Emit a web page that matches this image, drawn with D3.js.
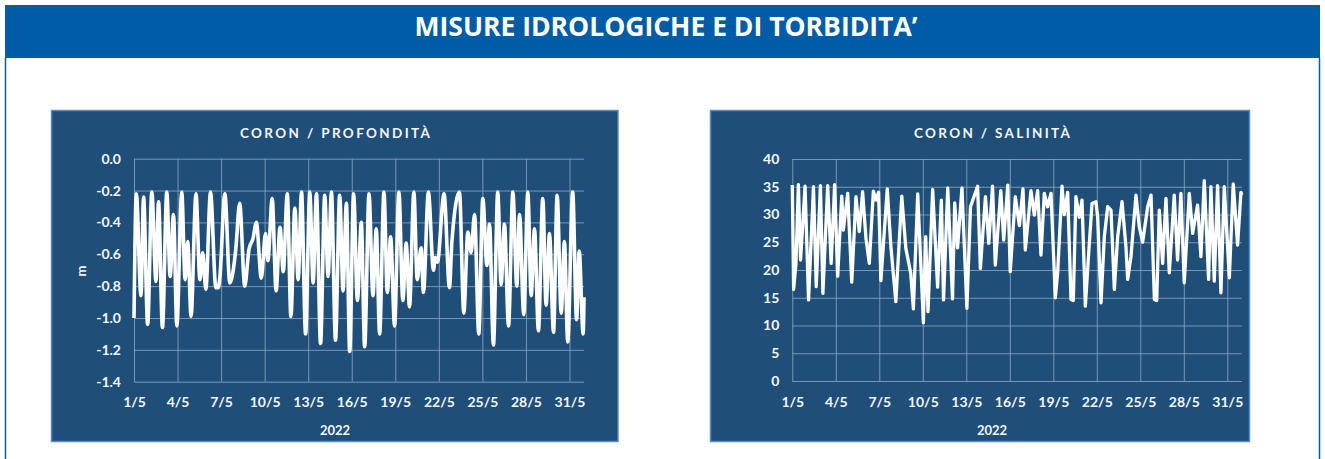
<!DOCTYPE html>
<html>
<head>
<meta charset="utf-8">
<script src="https://cdn.jsdelivr.net/npm/d3@7"></script>
<style>
  html, body { margin: 0; padding: 0; background: #ffffff; }
  svg { display: block; }
</style>
</head>
<body>
<svg id="chart" width="1325" height="459"></svg>
<script>
// ---------------- DATA ----------------
const pageTitle = "MISURE IDROLOGICHE E DI TORBIDITA’";
const depthTitle = "CORON / PROFONDITÀ";
const salTitle = "CORON / SALINITÀ";
const yearLabel = "2022";
const depthUnit = "m";

// x ticks: days of May 2022
const xTickDaysOfMonth = [1, 4, 7, 10, 13, 16, 19, 22, 25, 28, 31];
const depthTicks = [0.0, -0.2, -0.4, -0.6, -0.8, -1.0, -1.2, -1.4];
const salTicks = [0, 5, 10, 15, 20, 25, 30, 35, 40];

// Depth (m): time in days since 1 May 2022 00:00, value
const depthDays = [
  0.00, 0.16, 0.48, 0.66, 0.94, 1.23, 1.51, 1.69, 1.96, 2.26,
  2.49, 2.72, 2.95, 3.29, 3.52, 3.70, 3.93, 4.27, 4.54, 4.73,
  4.95, 5.27, 5.64, 5.80, 5.92, 6.26, 6.60, 7.01, 7.28, 7.63,
  7.92, 8.20, 8.43, 8.77, 9.06, 9.22, 9.52, 9.79, 10.06, 10.28,
  10.56, 10.81, 11.08, 11.31, 11.54, 11.82, 12.11, 12.34, 12.57, 12.85,
  13.14, 13.37, 13.60, 13.88, 14.17, 14.40, 14.63, 14.86, 15.13, 15.39,
  15.66, 15.89, 16.19, 16.46, 16.69, 16.92, 17.22, 17.45, 17.68, 17.95,
  18.25, 18.52, 18.75, 18.98, 19.28, 19.51, 19.78, 19.94, 20.28, 20.63,
  20.75, 20.90, 21.36, 21.73, 21.90, 22.42, 22.72, 23.00, 23.22, 23.46,
  23.75, 24.03, 24.31, 24.49, 24.76, 25.06, 25.29, 25.52, 25.80, 26.10,
  26.37, 26.56, 26.85, 27.13, 27.36, 27.59, 27.86, 28.16, 28.39, 28.62,
  28.90, 29.15, 29.43, 29.65, 29.88, 30.22, 30.49, 30.67, 30.94, 31.00
];
const depthValues = [
  -1.00, -0.22, -0.86, -0.24, -1.04, -0.21, -0.77, -0.27, -1.06, -0.21,
  -0.74, -0.35, -1.05, -0.21, -0.76, -0.52, -0.99, -0.22, -0.76, -0.59,
  -0.82, -0.21, -0.81, -0.81, -0.74, -0.22, -0.78, -0.57, -0.28, -0.80,
  -0.57, -0.50, -0.40, -0.75, -0.47, -0.64, -0.25, -0.83, -0.43, -0.71,
  -0.22, -0.99, -0.31, -0.76, -0.21, -1.10, -0.21, -0.78, -0.22, -1.16,
  -0.23, -0.74, -0.21, -1.14, -0.23, -0.83, -0.28, -1.21, -0.22, -0.89,
  -0.40, -1.18, -0.22, -0.86, -0.44, -1.10, -0.21, -0.84, -0.49, -1.05,
  -0.21, -0.89, -0.53, -0.93, -0.21, -0.76, -0.56, -0.84, -0.21, -0.70,
  -0.62, -0.65, -0.22, -0.81, -0.52, -0.21, -0.97, -0.46, -0.59, -0.35,
  -1.10, -0.25, -0.67, -0.41, -1.17, -0.21, -0.79, -0.41, -1.05, -0.21,
  -0.80, -0.35, -0.98, -0.21, -0.86, -0.44, -1.08, -0.25, -0.92, -0.47,
  -1.09, -0.23, -0.97, -0.52, -1.15, -0.21, -1.01, -0.58, -1.10, -0.87
];

// Salinity: time in days since 1 May 2022 00:00, value
const salDays = [
  0.00, 0.09, 0.25, 0.42, 0.57, 0.88, 1.12, 1.46, 1.65, 1.94,
  2.11, 2.44, 2.68, 2.92, 3.13, 3.41, 3.52, 3.82, 4.10, 4.39,
  4.62, 4.85, 5.08, 5.31, 5.59, 5.77, 5.95, 6.11, 6.55, 6.80,
  7.14, 7.55, 7.83, 8.17, 8.35, 8.65, 9.04, 9.20, 9.36, 9.68,
  10.02, 10.28, 10.43, 10.72, 11.05, 11.20, 11.40, 11.70, 12.04, 12.29,
  12.78, 12.97, 13.32, 13.55, 13.81, 14.00, 14.38, 14.58, 14.86, 15.03,
  15.38, 15.66, 15.91, 16.07, 16.46, 16.69, 16.92, 17.15, 17.38, 17.61,
  17.84, 18.14, 18.30, 18.60, 18.76, 18.99, 19.22, 19.38, 19.56, 19.79,
  19.98, 20.21, 20.44, 20.67, 20.94, 21.06, 21.29, 21.52, 21.75, 21.98,
  22.21, 22.44, 22.74, 23.01, 23.13, 23.36, 23.70, 23.93, 24.16, 24.51,
  24.74, 24.97, 25.13, 25.31, 25.54, 25.77, 26.00, 26.34, 26.57, 26.80,
  27.03, 27.38, 27.61, 27.95, 28.18, 28.41, 28.71, 28.87, 29.10, 29.33,
  29.56, 29.79, 30.14, 30.41, 30.71, 30.94, 31.00
];
const salValues = [
  35.3, 16.5, 21.0, 35.4, 21.8, 35.1, 14.6, 35.0, 17.0, 35.2,
  15.8, 35.2, 21.2, 35.4, 18.9, 33.3, 27.2, 33.8, 17.8, 33.2,
  26.9, 34.1, 25.7, 21.2, 34.2, 32.6, 34.0, 18.1, 34.6, 24.2,
  14.3, 33.3, 23.9, 19.4, 13.0, 33.7, 10.5, 26.0, 12.5, 34.5,
  16.9, 32.6, 14.6, 34.8, 14.8, 32.1, 24.0, 34.8, 13.1, 31.4,
  35.1, 20.3, 33.2, 24.8, 35.1, 20.9, 34.3, 25.4, 35.3, 19.7,
  33.2, 28.0, 34.6, 23.6, 34.3, 29.9, 34.3, 22.7, 33.8, 31.4,
  33.8, 15.0, 19.5, 35.1, 30.0, 34.0, 14.7, 14.5, 33.2, 29.5,
  32.6, 13.5, 23.0, 32.0, 32.3, 29.5, 14.1, 26.0, 31.4, 30.8,
  16.5, 26.0, 32.3, 24.2, 18.3, 22.5, 33.5, 27.8, 25.0, 31.4,
  33.5, 14.7, 14.5, 30.8, 21.2, 32.9, 19.5, 33.5, 21.8, 33.8,
  17.7, 33.8, 26.6, 31.7, 22.4, 36.1, 18.3, 35.0, 18.0, 35.2,
  15.9, 35.0, 18.6, 35.5, 24.5, 34.0, 33.5
];

// ---------------- DRAW ----------------
const svg = d3.select("#chart");
const DAY = 86400000;
const t0 = Date.UTC(2022, 4, 1);
const toDate = d => new Date(t0 + d * DAY);
const FONT = "Lato, 'Open Sans', sans-serif";

// page header
svg.append("rect").attr("x", 5).attr("y", 5).attr("width", 1315).attr("height", 53).attr("fill", "#005ca6");
svg.append("line").attr("x1", 5.5).attr("x2", 5.5).attr("y1", 58).attr("y2", 459).attr("stroke", "#005ca6").attr("stroke-width", 1.5);
svg.append("line").attr("x1", 1319.5).attr("x2", 1319.5).attr("y1", 58).attr("y2", 459).attr("stroke", "#005ca6").attr("stroke-width", 1.5);
svg.append("text").text(pageTitle)
  .attr("x", 666).attr("y", 36).attr("text-anchor", "middle")
  .attr("fill", "#ffffff").attr("font-family", "'Liberation Sans Narrow', 'Open Sans', sans-serif")
  .attr("font-weight", "bold").attr("font-size", 27)
  .attr("textLength", 503).attr("lengthAdjust", "spacingAndGlyphs");

function panel(cfg) {
  const g = svg.append("g");
  g.append("rect").attr("x", cfg.px).attr("y", cfg.py).attr("width", cfg.pw).attr("height", cfg.ph)
    .attr("fill", "#1f4e79").attr("stroke", "#5a8ac6").attr("stroke-width", 1.5);

  const x = d3.scaleUtc().domain([toDate(0), toDate(31)]).range([cfg.x0, cfg.x1]);
  const y = d3.scaleLinear().domain(cfg.domain).range([cfg.y1, cfg.y0]);
  const xTicks = xTickDaysOfMonth.map(m => toDate(m - 1));

  // grid + axes
  const ya = d3.axisLeft(y).tickValues(cfg.ticks).tickSize(-(cfg.x1 - cfg.x0)).tickPadding(13)
    .tickFormat(cfg.fmt);
  const gy = g.append("g").attr("transform", `translate(${cfg.x0},0)`).call(ya);
  const xa = d3.axisBottom(x).tickValues(xTicks).tickSize(-(cfg.y1 - cfg.y0)).tickPadding(13)
    .tickFormat(d3.utcFormat("%-d/%-m"));
  const gx = g.append("g").attr("transform", `translate(0,${cfg.y1})`).call(xa);
  [gy, gx].forEach(a => {
    a.select(".domain").remove();
    a.selectAll(".tick line").attr("stroke", "#8aa2c0").attr("stroke-width", 1).attr("opacity", 0.85);
    a.selectAll(".tick text").attr("fill", "#f4f6f9").attr("font-family", FONT)
      .attr("font-weight", "bold").attr("font-size", 14);
  });
  gx.selectAll(".tick text").attr("dy", "0.9em");

  // line
  const line = d3.line().x(p => x(toDate(p[0]))).y(p => y(p[1])).curve(cfg.curve);
  const pts = cfg.days.map((d, i) => [d, cfg.values[i]]);
  g.append("path").datum(pts).attr("d", line).attr("fill", "none")
    .attr("stroke", "#ffffff").attr("stroke-width", cfg.sw).attr("stroke-linejoin", "round");

  // titles
  g.append("text").text(cfg.title).attr("x", cfg.tx).attr("y", 138).attr("text-anchor", "middle")
    .attr("fill", "#f4f6f9").attr("font-family", FONT).attr("font-weight", "bold")
    .attr("font-size", 13.5).attr("textLength", cfg.tl).attr("lengthAdjust", "spacing");
  g.append("text").text(yearLabel).attr("x", cfg.tx).attr("y", 435).attr("text-anchor", "middle")
    .attr("fill", "#f4f6f9").attr("font-family", FONT).attr("font-weight", "bold").attr("font-size", 13);
  if (cfg.unit) {
    g.append("text").text(cfg.unit).attr("transform", `translate(86,271) rotate(-90)`)
      .attr("text-anchor", "middle").attr("fill", "#f4f6f9").attr("font-family", FONT)
      .attr("font-weight", "bold").attr("font-size", 13);
  }
}

panel({
  px: 51.5, py: 110.5, pw: 566.5, ph: 331,
  x0: 134, x1: 584, y0: 158.7, y1: 381.7,
  domain: [-1.4, 0], ticks: depthTicks, fmt: d => d.toFixed(1),
  days: depthDays, values: depthValues, curve: d3.curveMonotoneX, sw: 3.6,
  title: depthTitle, tx: 335, tl: 190, unit: depthUnit
});
panel({
  px: 710.5, py: 110.5, pw: 539, ph: 331,
  x0: 792.3, x1: 1241.8, y0: 159, y1: 381,
  domain: [0, 40], ticks: salTicks, fmt: d => String(d),
  days: salDays, values: salValues, curve: d3.curveLinear, sw: 3.3,
  title: salTitle, tx: 992, tl: 156, unit: null
});
</script>
</body>
</html>
